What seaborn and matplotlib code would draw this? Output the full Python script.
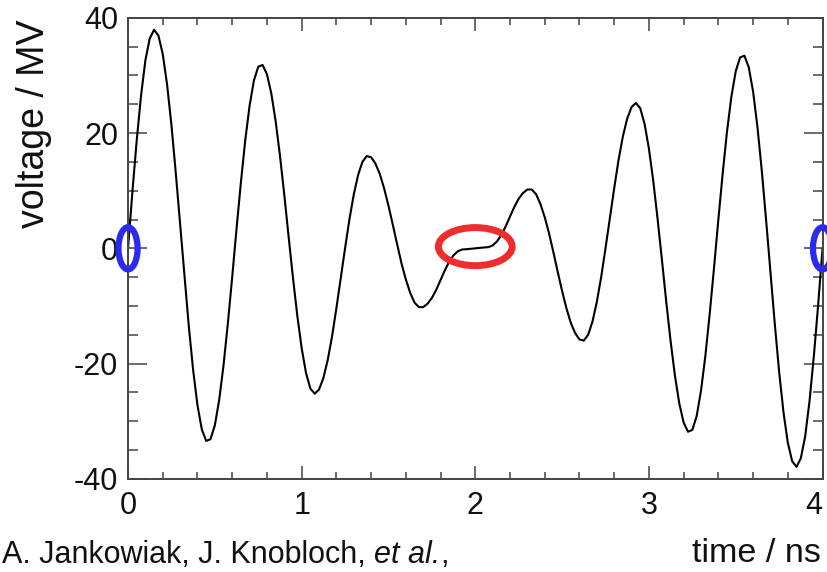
import numpy as np
import matplotlib
matplotlib.use("Agg")
import matplotlib.pyplot as plt
import seaborn as sns
from matplotlib.patches import Ellipse
from matplotlib.ticker import MultipleLocator

# time axis, sampled every 0.025 ns from 0 to 4 ns
time_ns = np.linspace(0.0, 4.0, 161)

# voltage (MV)
voltage_mv = [
    0.0, 9.7, 18.7, 26.5, 32.6, 36.4, 37.9, 36.9, 33.7, 28.4,
    21.4, 13.1, 4.2, -4.9, -13.5, -21.1, -27.2, -31.4, -33.4, -33.1,
    -30.7, -26.3, -20.3, -13.0, -5.0, 3.4, 11.4, 18.7, 24.7, 29.1,
    31.5, 31.8, 30.2, 26.9, 22.1, 16.1, 9.3, 2.0, -5.1, -11.7,
    -17.3, -21.6, -24.3, -25.2, -24.5, -22.5, -19.4, -15.3, -10.4, -5.2,
    0.0, 5.0, 9.3, 12.7, 15.0, 16.0, 15.8, 14.7, 12.9, 10.4,
    7.4, 4.1, 0.7, -2.6, -5.4, -7.7, -9.4, -10.2, -10.2, -9.6,
    -8.6, -7.2, -5.5, -3.8, -2.3, -1.2, -0.5, -0.2, -0.15, -0.08,
    0.0,
    0.08, 0.15, 0.2, 0.5, 1.2, 2.3, 3.8, 5.5, 7.2, 8.6,
    9.6, 10.2, 10.2, 9.4, 7.7, 5.4, 2.6, -0.7, -4.1, -7.4,
    -10.4, -12.9, -14.7, -15.8, -16.0, -15.0, -12.7, -9.3, -5.0, 0.0,
    5.2, 10.4, 15.3, 19.4, 22.5, 24.5, 25.2, 24.3, 21.6, 17.3,
    11.7, 5.1, -2.0, -9.3, -16.1, -22.1, -26.9, -30.2, -31.8, -31.5,
    -29.1, -24.7, -18.7, -11.4, -3.4, 5.0, 13.0, 20.3, 26.3, 30.7,
    33.1, 33.4, 31.4, 27.2, 21.1, 13.5, 4.9, -4.2, -13.1, -21.4,
    -28.4, -33.7, -36.9, -37.9, -36.4, -32.6, -26.5, -18.7, -9.7, 0.0,
]

x_ticks = [0, 1, 2, 3, 4]
y_ticks = [-40, -20, 0, 20, 40]

# highlighted points
edge_t = [0.0, 4.0]
node_t = [2.0]

caption = ["A. Jankowiak, J. Knobloch, ", "et al.", ","]

sns.set_style("ticks")
plt.rcParams["font.family"] = ["Liberation Sans", "DejaVu Sans"]
plt.rcParams["axes.unicode_minus"] = False

fig = plt.figure(figsize=(8.27, 5.72), dpi=100)
ax = fig.add_axes([0.1548, 0.1626, 0.8398, 0.8065])

sns.lineplot(x=time_ns, y=voltage_mv, color="black", linewidth=1.5, ax=ax)

ax.set_xlim(0, 4)
ax.set_ylim(-40, 40)
ax.set_xticks(x_ticks)
ax.set_xticklabels([str(v) for v in x_ticks])
ax.set_yticks(y_ticks)
ax.set_yticklabels([str(v) for v in y_ticks])
ax.xaxis.set_minor_locator(MultipleLocator(0.2))
ax.yaxis.set_minor_locator(MultipleLocator(5))

spine_col = "#444444"
for s in ax.spines.values():
    s.set_visible(True)
    s.set_color(spine_col)
    s.set_linewidth(1.4)

ax.tick_params(which="both", direction="in", top=True, right=True,
               color=spine_col, width=1.1, labelsize=22, labelcolor="#111111")
ax.tick_params(axis="y", which="major", length=14, pad=7)
ax.tick_params(axis="y", which="minor", length=7)
ax.tick_params(axis="x", which="major", length=9.5, pad=9)
ax.tick_params(axis="x", which="minor", length=5)
# last x label sits at the figure edge
ax.get_xticklabels()[-1].set_horizontalalignment("right")

ax.set_ylabel("voltage / MV", fontsize=27, loc="top", color="#111111")
ax.yaxis.set_label_coords(-0.11, 0.995)
ax.set_xlabel("time / ns", fontsize=24.5, loc="right", color="#111111")
ax.xaxis.set_label_coords(0.997, -0.128)

for t in edge_t:
    ax.add_patch(Ellipse((t, 0), width=0.11, height=7.3, fill=False,
                         edgecolor="#2b2bf0", linewidth=4.5, clip_on=False, zorder=5))
for t in node_t:
    ax.add_patch(Ellipse((t, 0.3), width=0.425, height=6.6, fill=False,
                         edgecolor="#f02d2d", linewidth=5, clip_on=False, zorder=5))

# caption, with the italic part placed right after the plain part
renderer = fig.canvas.get_renderer()
x0 = 2 / 827
y0 = 1 - 563 / 572
for part, style in zip(caption, ["normal", "italic", "normal"]):
    txt = fig.text(x0, y0, part, fontsize=22, style=style, ha="left",
                   va="baseline", color="#111111")
    bb = txt.get_window_extent(renderer)
    x0 = bb.x1 / fig.bbox.width

fig.savefig("out.png", dpi=100)
